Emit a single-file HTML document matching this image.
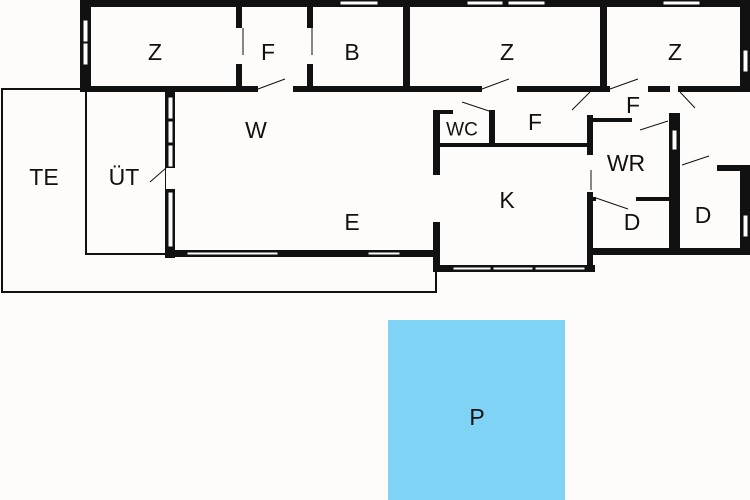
<!DOCTYPE html>
<html><head><meta charset="utf-8"><style>
html,body{margin:0;padding:0;background:#fdfcfa;width:750px;height:500px;overflow:hidden}
svg{display:block}
text{font-family:"Liberation Sans",Arial,sans-serif;font-size:23px;fill:#111;text-anchor:middle;dominant-baseline:central}
</style></head><body>
<svg width="750" height="500" viewBox="0 0 750 500">
<rect width="750" height="500" fill="#fdfcfa"/>
<g fill="none" stroke="#111" stroke-width="2">
<path d="M80 89 H2 V292 H436 V262"/>
<path d="M86 91 V254 H167"/>
</g>
<g fill="#111">
<rect x="80" y="0" width="670" height="7"/>
<rect x="80" y="0" width="11" height="92"/>
<rect x="740" y="0" width="10" height="92"/>
<rect x="80" y="86" width="670" height="6"/>
<rect x="236" y="0" width="6" height="28"/><rect x="236" y="64" width="6" height="26"/>
<rect x="307" y="0" width="6" height="28"/><rect x="307" y="64" width="6" height="26"/>
<rect x="403" y="0" width="7" height="90"/>
<rect x="600" y="0" width="7" height="90"/>
<rect x="165" y="88" width="10" height="170"/>
<rect x="165" y="250" width="275" height="7"/>
<rect x="433" y="110" width="7" height="65"/>
<rect x="433" y="222" width="7" height="50"/>
<rect x="433" y="110" width="20" height="4"/>
<rect x="489" y="110" width="6" height="36"/>
<rect x="433" y="143" width="157" height="4"/>
<rect x="587" y="115" width="6" height="40"/>
<rect x="587" y="192" width="6" height="80"/>
<rect x="433" y="265" width="162" height="7"/>
<rect x="590" y="248" width="160" height="7"/>
<rect x="669" y="113" width="11" height="142"/>
<rect x="740" y="165" width="10" height="88"/>
<rect x="717" y="165" width="33" height="6"/>
<rect x="590" y="118" width="42" height="4"/>
<rect x="636" y="197" width="36" height="4"/>
<rect x="590" y="197" width="6" height="4"/>
</g>
<g fill="#fdfcfa" stroke="#111" stroke-width="1">
<rect x="340" y="1" width="38" height="4"/>
<rect x="467" y="1" width="36" height="4"/>
<rect x="508" y="1" width="37" height="4"/>
<rect x="663" y="1" width="37" height="4"/>
<rect x="83" y="20" width="5" height="22"/>
<rect x="83" y="43" width="5" height="22"/>
<rect x="743" y="50" width="5" height="22"/>
<rect x="743" y="215" width="5" height="22"/>
<rect x="168" y="97" width="5" height="22"/>
<rect x="168" y="121" width="5" height="22"/>
<rect x="168" y="145" width="5" height="22"/>
<rect x="168" y="192" width="5" height="55"/>
<rect x="187" y="252" width="91" height="3"/>
<rect x="368" y="252" width="32" height="3"/>
<rect x="453" y="267" width="38" height="3"/>
<rect x="493" y="267" width="40" height="3"/>
<rect x="535" y="267" width="50" height="3"/>
<rect x="672" y="130" width="5" height="20"/>
</g>
<g fill="#fdfcfa">
<rect x="258" y="86" width="35" height="6"/>
<rect x="482" y="86" width="35" height="6"/>
<rect x="610" y="86" width="38" height="6"/>
<rect x="670" y="86" width="8" height="6"/>
<rect x="680" y="165" width="37" height="6"/>
<rect x="166" y="168" width="9" height="21"/>
</g>
<g stroke="#111" stroke-width="1" fill="none">
<line x1="258" y1="89" x2="285" y2="79"/>
<line x1="482" y1="89" x2="509" y2="79"/>
<line x1="610" y1="89" x2="638" y2="79"/>
<line x1="572" y1="110" x2="590" y2="92"/>
<line x1="680" y1="92" x2="695" y2="108"/>
<line x1="462" y1="102" x2="489" y2="111"/>
<line x1="640" y1="130" x2="668" y2="121"/>
<line x1="682" y1="165" x2="709" y2="156"/>
<line x1="596" y1="198" x2="628" y2="209"/>
<line x1="150" y1="182" x2="166" y2="168"/>
<line x1="591" y1="170" x2="591" y2="190"/>
<line x1="243" y1="28" x2="243" y2="55"/>
<line x1="312" y1="28" x2="312" y2="55"/>
</g>
<rect x="388" y="320" width="177" height="180" fill="#7fd4f5"/>
<text x="155" y="52">Z</text>
<text x="268" y="52">F</text>
<text x="352" y="52">B</text>
<text x="507" y="52">Z</text>
<text x="675" y="52">Z</text>
<text x="256" y="130">W</text>
<text x="44" y="177">TE</text>
<text x="124" y="177">ÜT</text>
<text x="352" y="222">E</text>
<text x="462" y="130" style="font-size:19px">WC</text>
<text x="535" y="122">F</text>
<text x="633" y="105">F</text>
<text x="626" y="163">WR</text>
<text x="507" y="200">K</text>
<text x="632" y="222">D</text>
<text x="703" y="215">D</text>
<text x="477" y="417">P</text>
</svg>
</body></html>
